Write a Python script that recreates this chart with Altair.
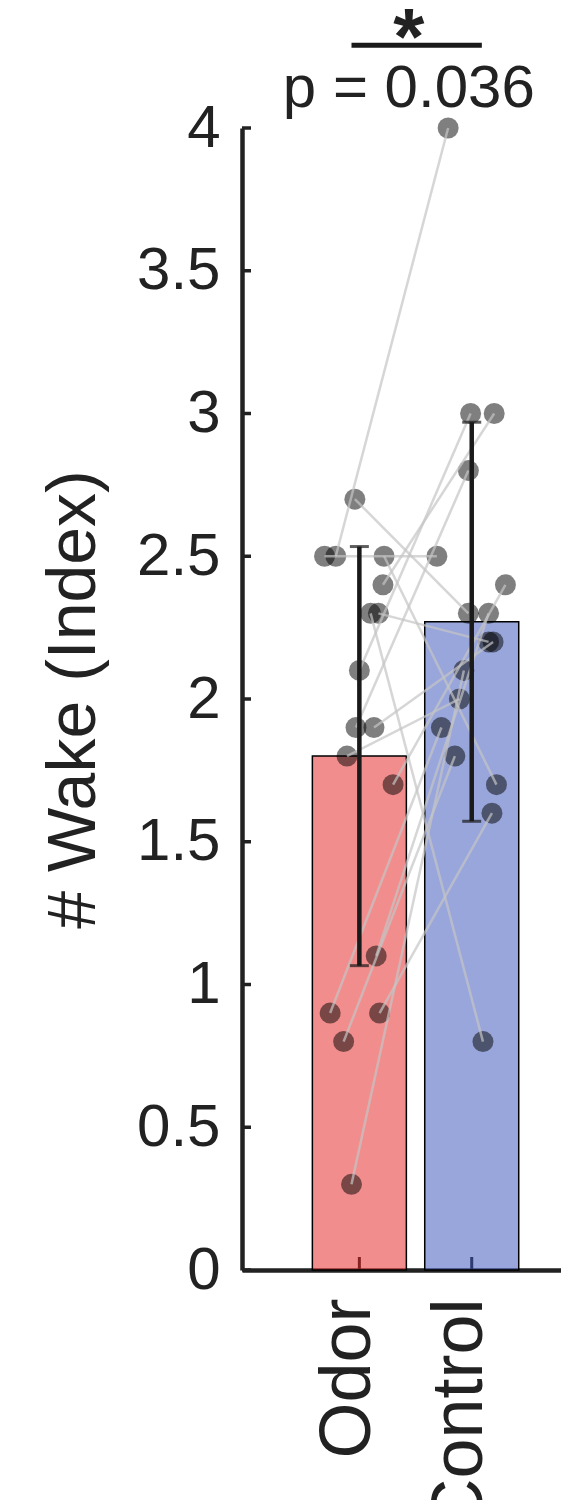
import altair as alt
import pandas as pd

# ---------------- data ----------------
categories = ["Odor", "Control"]
cat_pos = [1, 2]
bar_colors = ["#e83a3a", "#4d66c1"]

# paired values, one entry per subject (same index = same subject)
odor_vals = [2.5, 2.7, 2.5, 2.3, 2.5, 2.4, 2.3, 2.1, 1.9, 1.8, 1.9, 1.7, 0.9, 0.3, 1.1, 0.9, 0.8]
control_vals = [4.0, 2.3, 2.5, 0.8, 1.7, 3.0, 2.2, 3.0, 2.2, 2.0, 2.8, 2.4, 1.6, 2.1, 2.3, 1.9, 1.8]
# horizontal jitter of each dot (in category units)
odor_jitter = [-0.21, -0.04, -0.31, 0.10, 0.22, 0.21, 0.17, 0.00, 0.13, -0.11, -0.03, 0.30, 0.18, -0.07, 0.15, -0.26, -0.14]
control_jitter = [-0.21, -0.03, -0.31, 0.10, 0.22, 0.20, 0.15, -0.01, 0.19, -0.11, -0.03, 0.30, 0.18, -0.07, 0.15, -0.27, -0.15]

y_ticks = [0, 0.5, 1, 1.5, 2, 2.5, 3, 3.5, 4]
y_title = "# Wake (Index)"
p_label = "p = 0.036"
star_label = "*"
bracket_x = [0.93, 2.09]
bracket_y = 4.29
p_pos = [1.44, 4.074]
star_pos = [1.44, 4.225]

# ---------------- tables ----------------
rows = []
for i in range(len(odor_vals)):
    rows.append(dict(subject=i, cond=categories[0], pos=cat_pos[0],
                     value=odor_vals[i], x=cat_pos[0] + odor_jitter[i]))
    rows.append(dict(subject=i, cond=categories[1], pos=cat_pos[1],
                     value=control_vals[i], x=cat_pos[1] + control_jitter[i]))
df = pd.DataFrame(rows)

ticks_df = pd.DataFrame({"t": y_ticks})
cats_df = pd.DataFrame({"pos": cat_pos, "cond": categories})
bracket_df = pd.DataFrame({"x": [bracket_x[0]], "x2": [bracket_x[1]], "y": [bracket_y]})
ptext_df = pd.DataFrame({"x": [p_pos[0]], "y": [p_pos[1]], "t": [p_label]})
star_df = pd.DataFrame({"x": [star_pos[0]], "y": [star_pos[1]], "t": [star_label]})

# ---------------- layout ----------------
W = 319
H = 1142
FONT = "Liberation Sans"
INK = "#222222"

label_expr = "''"
for p, c in reversed(list(zip(cat_pos, categories))):
    label_expr = f"datum.value == {p} ? '{c}' : {label_expr}"

xscale = alt.Scale(domain=[0, W / 116], nice=False, zero=False)
yscale = alt.Scale(domain=[0, 4], nice=False, zero=False)

x_axis = alt.Axis(values=cat_pos, labelExpr=label_expr, title=None, ticks=False, tickSize=0,
                  labelAngle=270, labelAlign="right", labelBaseline="middle", labelLimit=0,
                  labelFontSize=72, labelPadding=28, labelOffset=-12)
y_axis = alt.Axis(values=y_ticks, labelExpr="datum.value", title=y_title, ticks=False, tickSize=0,
                  labelFontSize=60, labelPadding=22, titleFontSize=68, titlePadding=28)


def X(field):
    return alt.X(field, type="quantitative", scale=xscale, axis=x_axis)


def Y(field):
    return alt.Y(field, type="quantitative", scale=yscale, axis=y_axis)


base = alt.Chart(df)

# inward axis ticks
xticks = alt.Chart(cats_df).mark_rule(color="black", strokeWidth=3).encode(
    x=X("pos"), y=alt.value(H), y2=alt.value(H - 13))
yticks = alt.Chart(ticks_df).mark_rule(color=INK, strokeWidth=3.5).encode(
    y=Y("t"), x=alt.value(0), x2=alt.value(9))

bars = base.transform_aggregate(
    mean="mean(value)", groupby=["cond", "pos"]
).mark_bar(size=94, fillOpacity=0.58, stroke="black", strokeWidth=1.5).encode(
    x=X("pos"), y=Y("mean"),
    color=alt.Color("cond:N", scale=alt.Scale(domain=categories, range=bar_colors), legend=None))

points = base.mark_circle(size=440, color="black", opacity=0.5).encode(x=X("x"), y=Y("value"))

lines = base.mark_line(color="#c4c4c4", opacity=0.7, strokeWidth=2.5).encode(
    x=X("x"), y=Y("value"), detail="subject:N", order="pos:Q")

stats = base.transform_aggregate(
    mean="mean(value)", sd="stdev(value)", groupby=["pos"]
).transform_calculate(lo="datum.mean - datum.sd", hi="datum.mean + datum.sd")

err = stats.mark_rule(color="#1a1a1a", strokeWidth=4.5).encode(x=X("pos"), y=Y("lo"), y2="hi:Q")
caps = stats.transform_fold(["lo", "hi"], as_=["k", "v"]).mark_tick(
    orient="horizontal", size=19, thickness=3, color="#1a1a1a").encode(x=X("pos"), y=Y("v"))

bracket = alt.Chart(bracket_df).mark_rule(color="#1a1a1a", strokeWidth=5).encode(
    x=X("x"), x2="x2:Q", y=Y("y"))
ptext = alt.Chart(ptext_df).mark_text(font=FONT, fontSize=60, color=INK, align="center",
                                      baseline="alphabetic").encode(x=X("x"), y=Y("y"), text="t:N")
star = alt.Chart(star_df).mark_text(font=FONT, fontSize=80, fontWeight="bold", color=INK, align="center",
                                    baseline="alphabetic").encode(x=X("x"), y=Y("y"), text="t:N")

chart = alt.layer(xticks, bars, points, lines, err, caps, yticks, bracket, ptext, star).properties(
    width=W, height=H,
    autosize=alt.AutoSizeParams(type="none"),
    padding={"left": 234, "top": 120, "right": 0, "bottom": 230},
    background="white",
).configure_view(stroke=None).configure_axis(
    grid=False, domainColor=INK, domainWidth=4.5, labelColor=INK, titleColor=INK,
    labelFont=FONT, titleFont=FONT, titleFontWeight="normal"
)

chart.save("out.html", embed_options={"renderer": "svg", "actions": False})
